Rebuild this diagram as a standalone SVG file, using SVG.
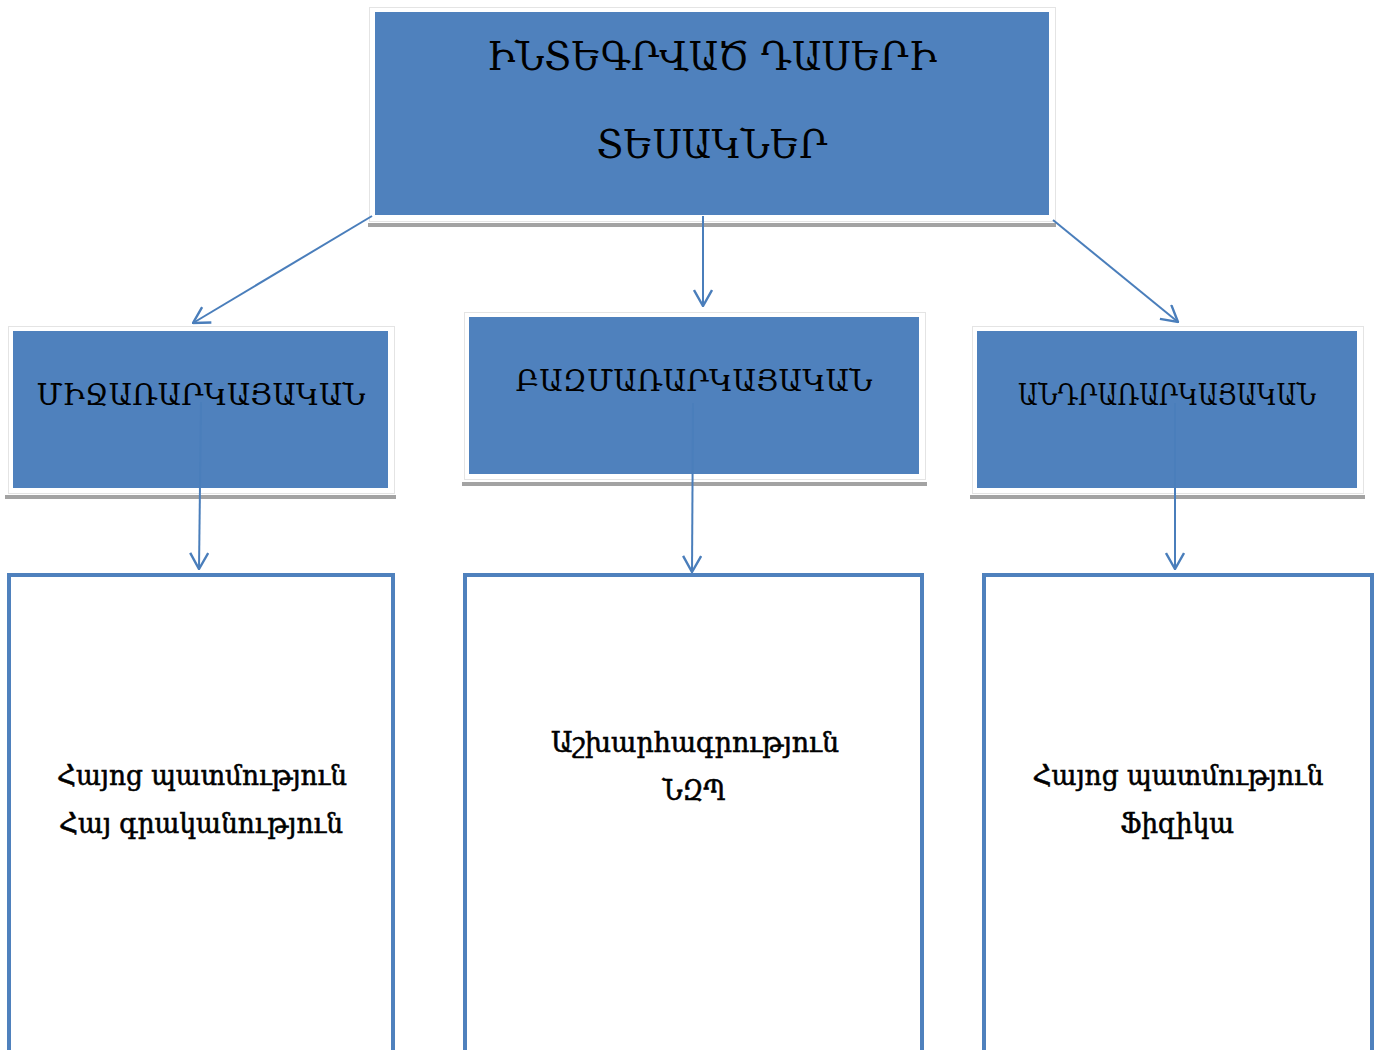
<svg xmlns="http://www.w3.org/2000/svg" width="1381" height="1050" viewBox="0 0 1381 1050">
<style>
.frame{fill:#fff;stroke:#e4e4e4;stroke-width:1}
.blue{fill:#4F81BD}
.shadow{fill:#a3a3a3}
.box{fill:#fff;stroke:#4F81BD;stroke-width:4}
.t{font-family:"DejaVu Serif","Noto Serif","Noto Sans",serif;fill:#000;text-anchor:middle}
.b{stroke:#000;stroke-width:0.6}
.conn{stroke:#4A7EBB;stroke-width:2;fill:none}
</style>
<defs>
<marker id="arr" markerUnits="userSpaceOnUse" viewBox="0 0 18 20" refX="17" refY="10" markerWidth="18" markerHeight="20" orient="auto">
<path d="M1,1 L17,10 L1,19" fill="none" stroke="#4A7EBB" stroke-width="2.4"/>
</marker>
</defs>
<rect width="1381" height="1050" fill="#fff"/>
<g id="top">
<rect class="shadow" x="368" y="223" width="688" height="4"/>
<rect class="frame" x="369.5" y="7.5" width="686" height="214"/>
<rect class="blue" x="375" y="12" width="674" height="203"/>
<text class="t" x="712" y="70" font-size="40" textLength="450" lengthAdjust="spacingAndGlyphs">ԻՆՏԵԳՐՎԱԾ ԴԱՍԵՐԻ</text>
<text class="t" x="712" y="158" font-size="40" textLength="231" lengthAdjust="spacingAndGlyphs">ՏԵՍԱԿՆԵՐ</text>
</g>
<g id="mid-left">
<rect class="shadow" x="5" y="495" width="391" height="4"/>
<rect class="frame" x="8.5" y="326.5" width="386" height="167"/>
<rect class="blue" x="13" y="331" width="375" height="157"/>
<text class="t" x="201" y="405" font-size="29" textLength="329" lengthAdjust="spacingAndGlyphs">ՄԻՋԱՌԱՐԿԱՅԱԿԱՆ</text>
</g>
<g id="mid-center">
<rect class="shadow" x="462" y="482" width="465" height="4"/>
<rect class="frame" x="464.5" y="312.5" width="461" height="167"/>
<rect class="blue" x="469" y="317" width="450" height="157"/>
<text class="t" x="694" y="391" font-size="29" textLength="357" lengthAdjust="spacingAndGlyphs">ԲԱԶՄԱՌԱՐԿԱՅԱԿԱՆ</text>
</g>
<g id="mid-right">
<rect class="shadow" x="970" y="495" width="395" height="4"/>
<rect class="frame" x="972.5" y="326.5" width="391" height="167"/>
<rect class="blue" x="977" y="331" width="380" height="157"/>
<text class="t" x="1167" y="405" font-size="29" textLength="298" lengthAdjust="spacingAndGlyphs">ԱՆԴՐԱՌԱՐԿԱՅԱԿԱՆ</text>
</g>
<g id="bottom-left">
<rect class="box" x="9" y="575" width="384" height="490"/>
<text class="t b" x="202" y="785" font-size="27" textLength="290" lengthAdjust="spacingAndGlyphs">Հայոց պատմություն</text>
<text class="t b" x="201" y="833" font-size="27" textLength="284" lengthAdjust="spacingAndGlyphs">Հայ գրականություն</text>
</g>
<g id="bottom-center">
<rect class="box" x="465" y="575" width="457" height="490"/>
<text class="t b" x="695" y="752" font-size="27" textLength="288" lengthAdjust="spacingAndGlyphs">Աշխարհագրություն</text>
<text class="t b" x="694" y="800" font-size="27" textLength="63" lengthAdjust="spacingAndGlyphs">ՆԶՊ</text>
</g>
<g id="bottom-right">
<rect class="box" x="984" y="575" width="388" height="490"/>
<text class="t b" x="1178" y="785" font-size="27" textLength="291" lengthAdjust="spacingAndGlyphs">Հայոց պատմություն</text>
<text class="t b" x="1177" y="833" font-size="27" textLength="114" lengthAdjust="spacingAndGlyphs">Ֆիզիկա</text>
</g>
<g id="connectors">
<line class="conn" x1="372" y1="216" x2="193" y2="323" marker-end="url(#arr)"/>
<line class="conn" x1="703" y1="216" x2="703" y2="306" marker-end="url(#arr)"/>
<line class="conn" x1="1053" y1="220" x2="1178" y2="322" marker-end="url(#arr)"/>
<line class="conn" x1="201" y1="402" x2="199" y2="569" marker-end="url(#arr)"/>
<line class="conn" x1="693" y1="403" x2="692" y2="572" marker-end="url(#arr)"/>
<line class="conn" x1="1175" y1="403" x2="1175" y2="569" marker-end="url(#arr)"/>
</g>
</svg>
